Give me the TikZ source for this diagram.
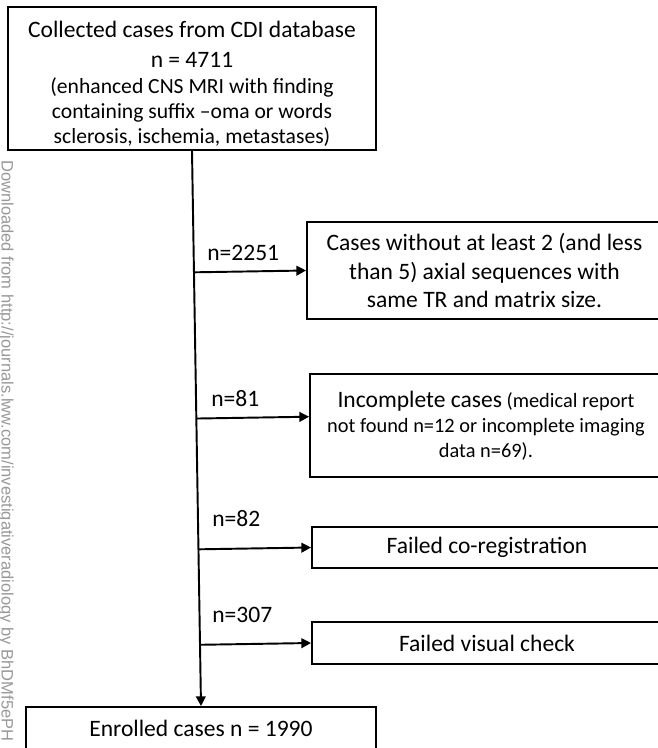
\documentclass[tikz,border=0pt]{standalone}
\usepackage{fontspec}
\setmainfont{Carlito}
\newfontfamily\wmfont{Liberation Sans}
\usetikzlibrary{arrows.meta,calc}

\newcommand{\bigtxt}{\fontsize{13.4}{16}\selectfont}
\newcommand{\smalltxt}{\fontsize{12.3}{14.2}\selectfont}
\newcommand{\notetxt}{\fontsize{11.6}{14.2}\selectfont}

\begin{document}
\begin{tikzpicture}[x=0.02cm,y=-0.02cm,
    box/.style={draw=black, line width=1.1pt, fill=white, align=center, inner sep=2pt, font=\bigtxt},
    count/.style={anchor=west, inner sep=0pt, font=\bigtxt},
    flow/.style={line width=1.1pt, -{Triangle[length=5.5pt,width=5.5pt]}}]

  \useasboundingbox (0,0) rectangle (658,748);
  \clip (0,0) rectangle (658,748);
  \fill[white] (0,0) rectangle (658,748);

  % watermark along the left edge
  \node[rotate=-90, anchor=west, inner sep=0pt, text=black!40, font=\wmfont\fontsize{9.4}{11}\selectfont] (wm) at (6,160)
    {Downloaded from http://journals.lww.com/investigativeradiology by BhDMf5ePH};

  % main boxes
  \node[box, minimum width=7.36cm, minimum height=2.86cm] (cdi) at (192,78.5)
    {\rule{0pt}{15pt}Collected cases from CDI database\\[1pt] n = 4711\\[-0.8pt] \smalltxt (enhanced CNS MRI with finding\\[-2pt] \smalltxt containing suffix –oma or words\\[-2pt] \smalltxt sclerosis, ischemia, metastases)};
  \node[box, minimum width=7.0cm, minimum height=0.84cm] (enr) at (201,728) {Enrolled cases n = 1990};

  % excluded cases
  \node[box, minimum width=7.1cm, minimum height=1.94cm] (seq) at (484.5,270.5)
    {Cases without at least 2 (and less\\ than 5) axial sequences with\\ same TR and matrix size.};
  \node[box, minimum width=7.04cm, minimum height=2.06cm, font=\notetxt] (inc) at (486,425.5)
    {{\bigtxt Incomplete cases} (medical report\\ not found n=12 or incomplete imaging\\ data n=69).};
  \node[box, minimum width=7.0cm, minimum height=0.82cm] (reg) at (487,547.5) {Failed co-registration};
  \node[box, minimum width=7.0cm, minimum height=0.84cm] (vis) at (487,643) {Failed visual check};

  % counts
  \node[count] (nseq) at (207,253) {n=2251};
  \node[count] (ninc) at (211,399) {n=81};
  \node[count] (nreg) at (212,519) {n=82};
  \node[count] (nvis) at (212,615) {n=307};

  % connectors
  \draw[flow] (cdi.south) -- (enr.north);
  \draw[flow] ($(cdi.south)!(seq.west)!(enr.north)$) -- (seq.west);
  \draw[flow] ($(cdi.south)!([yshift=5pt]inc.west)!(enr.north)$) -- ([yshift=5pt]inc.west);
  \draw[flow] ($(cdi.south)!(reg.west)!(enr.north)$) -- (reg.west);
  \draw[flow] ($(cdi.south)!(vis.west)!(enr.north)$) -- (vis.west);

\end{tikzpicture}
\end{document}
